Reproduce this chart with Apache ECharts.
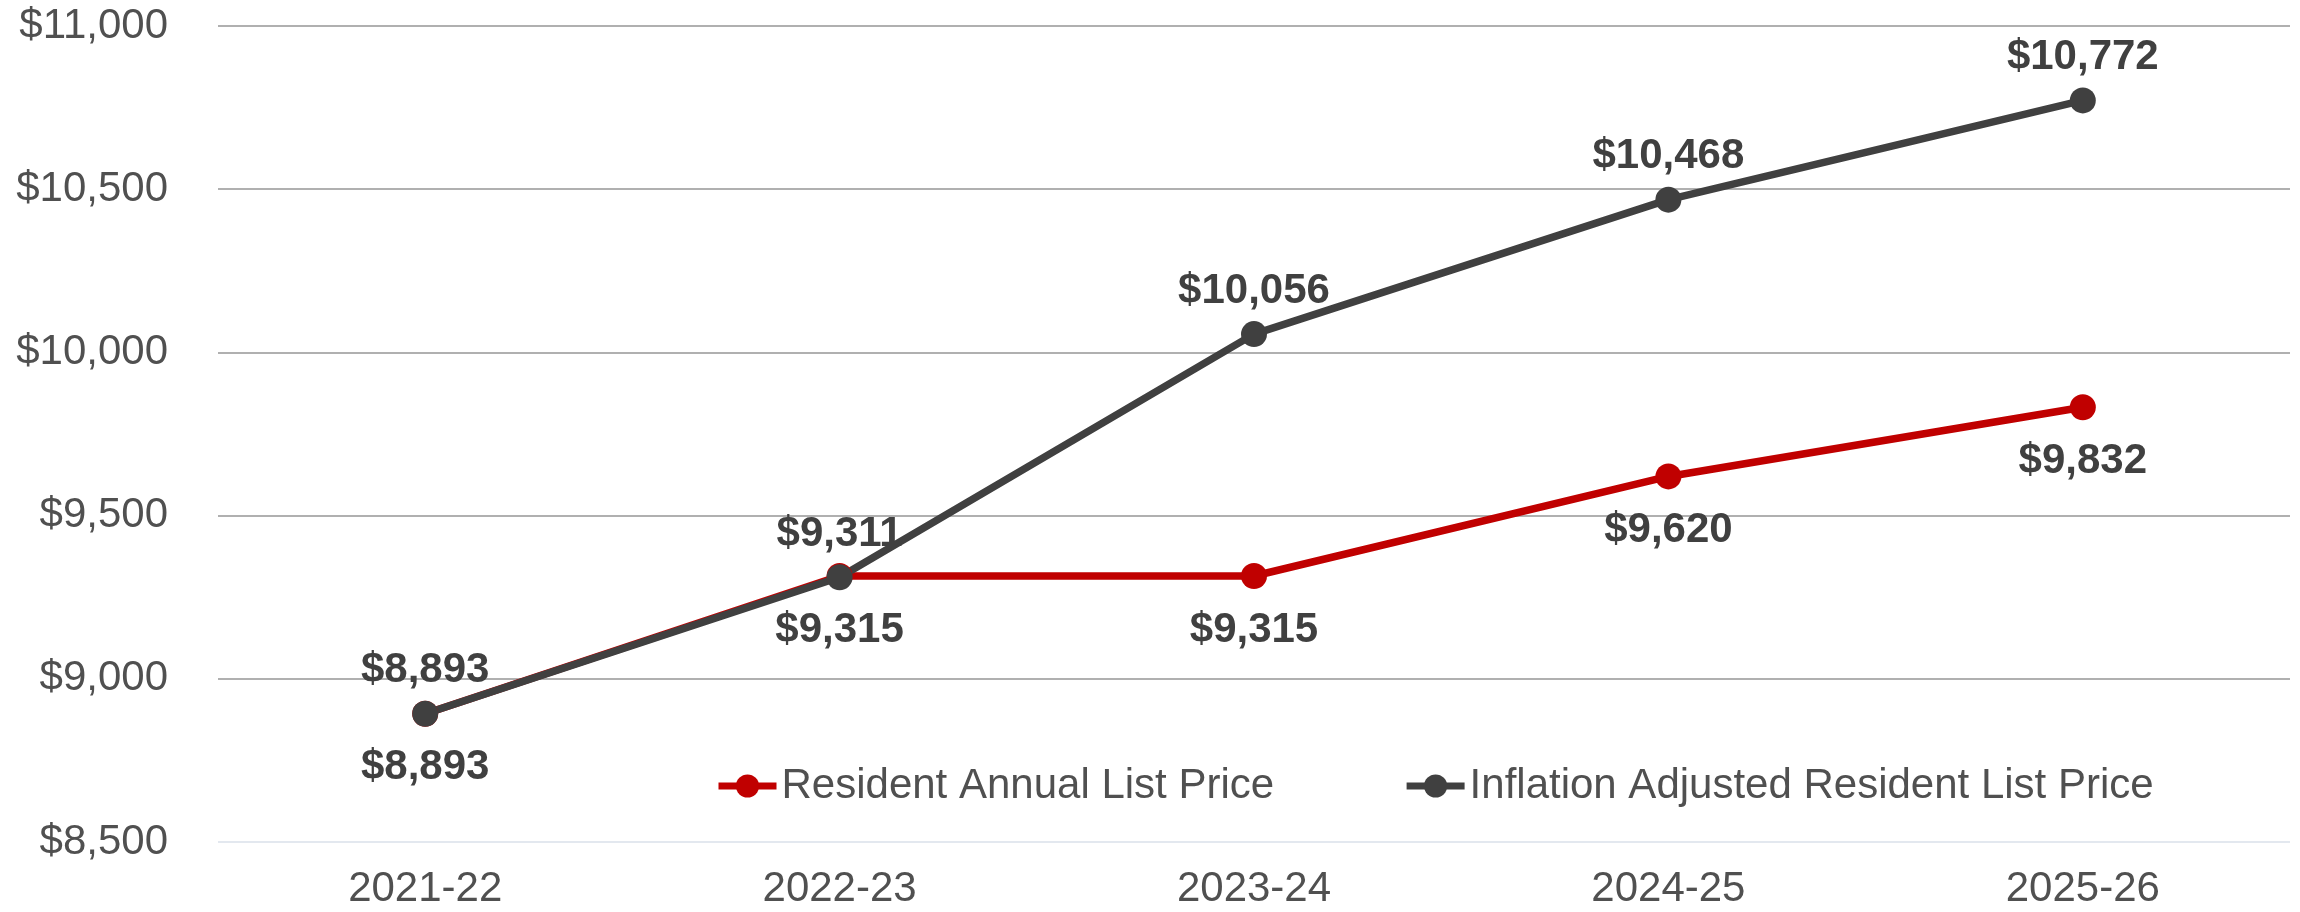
<!DOCTYPE html>
<html>
<head>
    <meta charset="utf-8">
    <title>list price</title>
    <script src="https://cdn.jsdelivr.net/npm/echarts@6/dist/echarts.min.js"></script>
    <style>
        html, body { margin: 0; padding: 0; background: #fff; }
    </style>
</head>
<body>

<div id="main" style="width: 2300px;height:912px;"></div>

<script type="text/javascript">
    // data
    var years = ['2021-22', '2022-23', '2023-24', '2024-25', '2025-26'];
    var residentPrice = [8893, 9315, 9315, 9620, 9832];
    var inflationPrice = [8893, 9311, 10056, 10468, 10772];
    var yTicks = [8500, 9000, 9500, 10000, 10500, 11000];

    var fontName = '"Liberation Sans", Arial, sans-serif';

    function money(v) {
        return '$' + String(v).replace(/\B(?=(\d{3})+(?!\d))/g, ',');
    }

    var myChart = echarts.init(document.getElementById('main'));

    var option = {
        animation: false,
        textStyle: { fontFamily: fontName },
        grid: { left: 218, right: 10, top: 26, bottom: 70, containLabel: false },
        legend: {
            left: 710,
            top: 760,
            itemWidth: 58,
            itemHeight: 29,
            itemGap: 129,
            lineStyle: { width: 7 },
            textStyle: { fontSize: 42, color: '#505050', fontFamily: fontName },
            data: ['Resident Annual List Price', 'Inflation Adjusted Resident List Price']
        },
        xAxis: {
            type: 'category',
            data: years,
            boundaryGap: true,
            axisLine: { show: false },
            axisTick: { show: false },
            axisLabel: { fontSize: 42, color: '#505050', margin: 26, fontFamily: fontName }
        },
        yAxis: {
            type: 'value',
            min: yTicks[0],
            max: yTicks[yTicks.length - 1],
            interval: 500,
            axisLine: { show: false },
            axisTick: { show: false },
            axisLabel: {
                fontSize: 42, color: '#505050', margin: 50, fontFamily: fontName,
                formatter: function (v) { return money(v); }
            },
            splitLine: {
                lineStyle: {
                    width: 2,
                    color: ['#e3e8ef', '#b0b0b0', '#b0b0b0', '#b0b0b0', '#b0b0b0', '#b0b0b0']
                }
            }
        },
        series: [{
            name: 'Resident Annual List Price',
            type: 'line',
            data: residentPrice,
            symbol: 'circle',
            symbolSize: 26,
            color: '#c00000',
            lineStyle: { width: 7.5, color: '#c00000' },
            itemStyle: { color: '#c00000' },
            label: {
                show: true,
                position: 'bottom',
                distance: 20,
                fontSize: 42,
                fontWeight: 'bold',
                color: '#404040',
                fontFamily: fontName,
                formatter: function (p) { return money(p.value); }
            }
        }, {
            name: 'Inflation Adjusted Resident List Price',
            type: 'line',
            data: inflationPrice,
            symbol: 'circle',
            symbolSize: 26,
            color: '#404040',
            lineStyle: { width: 7.5, color: '#404040' },
            itemStyle: { color: '#404040' },
            label: {
                show: true,
                position: 'top',
                distance: 9,
                fontSize: 42,
                fontWeight: 'bold',
                color: '#404040',
                fontFamily: fontName,
                formatter: function (p) { return money(p.value); }
            }
        }]
    };

    myChart.setOption(option);
</script>
</body>
</html>
